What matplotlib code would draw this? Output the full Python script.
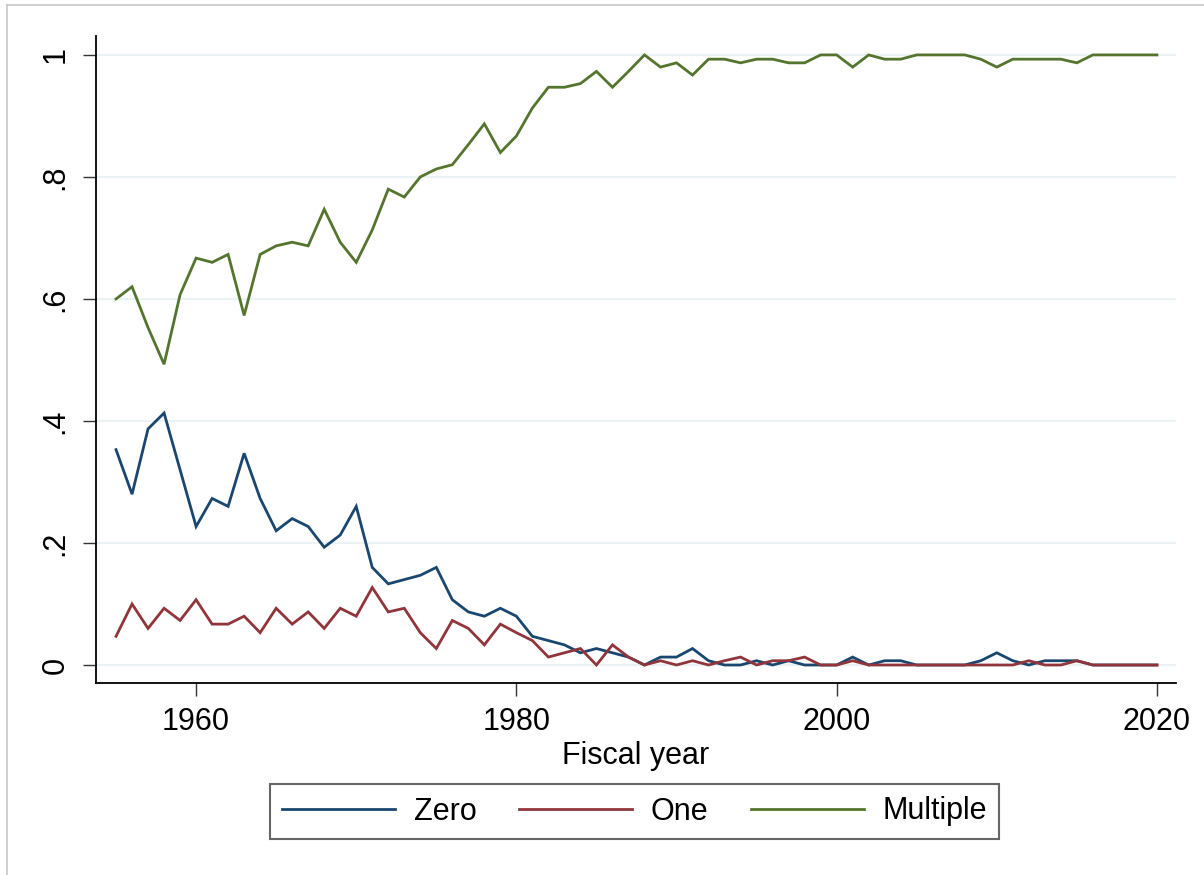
import matplotlib
matplotlib.use("Agg")
import matplotlib.pyplot as plt
from matplotlib.lines import Line2D

plt.rcParams["font.family"] = ["Liberation Sans", "DejaVu Sans"]

# ── Data ─────────────────────────────────────────────────────────────────────
YEARS = list(range(1955, 2021))

ZERO = [
    0.353, 0.280, 0.387, 0.413, 0.320, 0.227, 0.273, 0.260, 0.347, 0.273,
    0.220, 0.240, 0.227, 0.193, 0.213, 0.260, 0.160, 0.133, 0.140, 0.147,
    0.160, 0.107, 0.087, 0.080, 0.093, 0.080, 0.047, 0.040, 0.033, 0.020,
    0.027, 0.020, 0.013, 0.000, 0.013, 0.013, 0.027, 0.007, 0.000, 0.000,
    0.007, 0.000, 0.007, 0.000, 0.000, 0.000, 0.013, 0.000, 0.007, 0.007,
    0.000, 0.000, 0.000, 0.000, 0.007, 0.020, 0.007, 0.000, 0.007, 0.007,
    0.007, 0.000, 0.000, 0.000, 0.000, 0.000,
]

ONE = [
    0.047, 0.100, 0.060, 0.093, 0.073, 0.107, 0.067, 0.067, 0.080, 0.053,
    0.093, 0.067, 0.087, 0.060, 0.093, 0.080, 0.127, 0.087, 0.093, 0.053,
    0.027, 0.073, 0.060, 0.033, 0.067, 0.053, 0.040, 0.013, 0.020, 0.027,
    0.000, 0.033, 0.013, 0.000, 0.007, 0.000, 0.007, 0.000, 0.007, 0.013,
    0.000, 0.007, 0.007, 0.013, 0.000, 0.000, 0.007, 0.000, 0.000, 0.000,
    0.000, 0.000, 0.000, 0.000, 0.000, 0.000, 0.000, 0.007, 0.000, 0.000,
    0.007, 0.000, 0.000, 0.000, 0.000, 0.000,
]

MULTIPLE = [
    0.600, 0.620, 0.553, 0.493, 0.607, 0.667, 0.660, 0.673, 0.573, 0.673,
    0.687, 0.693, 0.687, 0.747, 0.693, 0.660, 0.713, 0.780, 0.767, 0.800,
    0.813, 0.820, 0.853, 0.887, 0.840, 0.867, 0.913, 0.947, 0.947, 0.953,
    0.973, 0.947, 0.973, 1.000, 0.980, 0.987, 0.967, 0.993, 0.993, 0.987,
    0.993, 0.993, 0.987, 0.987, 1.000, 1.000, 0.980, 1.000, 0.993, 0.993,
    1.000, 1.000, 1.000, 1.000, 0.993, 0.980, 0.993, 0.993, 0.993, 0.993,
    0.987, 1.000, 1.000, 1.000, 1.000, 1.000,
]

SERIES = [("Zero", ZERO, "#1a476f"), ("One", ONE, "#90353b"), ("Multiple", MULTIPLE, "#55752f")]
Y_TICKS = [0, 0.2, 0.4, 0.6, 0.8, 1.0]
Y_LABELS = ["0", ".2", ".4", ".6", ".8", "1"]
X_TICKS = [1960, 1980, 2000, 2020]

FS = 22

fig = plt.figure(figsize=(12.04, 8.75), dpi=100)
ax = fig.add_axes([96 / 1204, 1 - 683 / 875, 1080 / 1204, 647 / 875])

for name, vals, color in SERIES:
    ax.plot(YEARS, vals, color=color, lw=2.0, label=name, solid_joinstyle="miter")

ax.set_xlim(1953.75, 2021.19)
ax.set_ylim(-0.0295, 1.031)

ax.set_yticks(Y_TICKS)
ax.set_yticklabels(Y_LABELS, rotation=90, va="center")
ax.set_xticks(X_TICKS)
ax.tick_params(axis="both", labelsize=FS, length=9.5, width=1.0, color="#333333")
ax.tick_params(axis="y", pad=9)
ax.tick_params(axis="x", pad=8)

ax.grid(axis="y", color="#eaf2f3", lw=1.6)
ax.set_axisbelow(True)
for side in ["top", "right"]:
    ax.spines[side].set_visible(False)
for side in ["left", "bottom"]:
    ax.spines[side].set_linewidth(1.3)
    ax.spines[side].set_color("#000000")

ax.set_xlabel("Fiscal year", fontsize=FS, labelpad=3)

fig.legend(
    loc="center", bbox_to_anchor=(634.5 / 1204, 1 - 811.5 / 875), ncol=3,
    fontsize=FS, frameon=True, fancybox=False, edgecolor="#404040",
    handlelength=3.7, handletextpad=0.6, columnspacing=1.4,
    borderpad=0.4, borderaxespad=0,
)
leg = fig.legends[0]
leg.get_frame().set_linewidth(1.5)

# outer graph-region border
fig.add_artist(Line2D([7 / 1204, 1.01], [1 - 5 / 875, 1 - 5 / 875], color="#c8c8c8", lw=1.2))
fig.add_artist(Line2D([7 / 1204, 7 / 1204], [-0.01, 1 - 5 / 875], color="#c8c8c8", lw=1.2))

fig.savefig("out.png", dpi=100, facecolor="white")
